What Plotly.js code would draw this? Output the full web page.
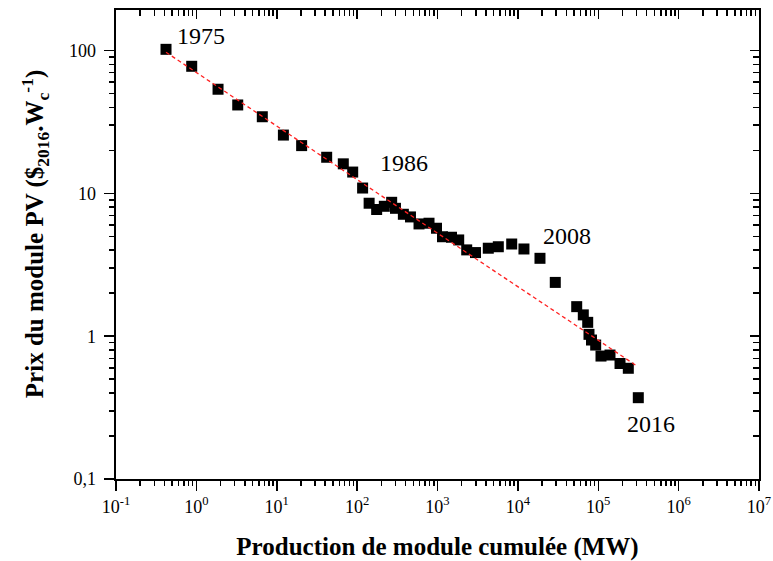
<!DOCTYPE html>
<html><head><meta charset="utf-8">
<script src="https://cdn.plot.ly/plotly-3.0.1.min.js"></script>
<style>html,body{margin:0;padding:0;background:#fff}#chart{width:773px;height:561px}</style>
</head><body><div id="chart"></div>
<script>
// Cumulative module production (MW) and module price ($2016/Wc)
const cumulativeMW = [0.419, 0.875, 1.86, 3.27, 6.61, 12.1, 20.4, 41.8, 67.3, 88.1,
  117, 141, 175, 218, 269, 300, 376, 461, 589, 784,
  972, 1153, 1493, 1836, 2309, 2971, 4285, 5710, 8380, 11900,
  18840, 29200, 53950, 65160, 73930, 76700, 82400, 92900, 108200, 140000,
  186600, 236600, 315000];
const priceUSD = [102, 77.6, 53.6, 41.6, 34.4, 25.6, 21.6, 17.9, 16.1, 14.1,
  10.9, 8.53, 7.71, 8.12, 8.66, 7.86, 7.14, 6.84, 6.11, 6.18,
  5.70, 4.97, 4.93, 4.72, 4.02, 3.85, 4.13, 4.23, 4.42, 4.08,
  3.51, 2.38, 1.61, 1.41, 1.25, 1.03, 0.94, 0.867, 0.726, 0.738,
  0.644, 0.596, 0.371];
// Learning-curve fit (end points)
const fitMW = [0.419, 303000];
const fitPrice = [97.3, 0.618];
// Year annotations
const yearLabels = ['1975', '1986', '2008', '2016'];
const yearLabelMW = [1.14, 380, 40800, 453000];
const yearLabelPrice = [126, 16.3, 5.03, 0.243];
// Tick labels
const xTickVals = [0.1, 1, 10, 100, 1e3, 1e4, 1e5, 1e6, 1e7];
const xTickText = ['10<sup>-1</sup>', '10<sup>0</sup>', '10<sup>1</sup>', '10<sup>2</sup>', '10<sup>3</sup>',
  '10<sup>4</sup>', '10<sup>5</sup>', '10<sup>6</sup>', '10<sup>7</sup>'];
const yTickVals = [0.1, 1, 10, 100];
const yTickText = ['0,1\u00a0', '1\u00a0', '10\u00a0', '100\u00a0'];
const xTitle = '<b>Production de module cumulée (MW)</b>';
const yTitle = '<b>Prix du module PV ($<sub>2016</sub>.W<sub>c</sub><sup>-1</sup>)</b>';

function minorVals(lo, hi) {
  const out = [];
  for (let e = lo; e < hi; e++) for (let d = 2; d <= 9; d++) out.push(d * Math.pow(10, e));
  return out;
}
const xMinor = minorVals(-1, 7);
const yMinor = minorVals(-1, 3);

const FONT = 'Liberation Serif, Times New Roman, serif';
const xRange = [-1, 7];
const yRange = [-1, 2.284];

const traces = [
  { x: cumulativeMW, y: priceUSD, type: 'scatter', mode: 'markers',
    marker: { symbol: 'square', size: 11, color: '#000' }, hoverinfo: 'x+y' },
  { x: fitMW, y: fitPrice, type: 'scatter', mode: 'lines',
    line: { color: '#ff2020', width: 1.3, dash: '4px,3px' }, hoverinfo: 'skip' },
  { x: [], y: [], xaxis: 'x2', yaxis: 'y', type: 'scatter', mode: 'markers', hoverinfo: 'skip', showlegend: false },
  { x: [], y: [], xaxis: 'x', yaxis: 'y2', type: 'scatter', mode: 'markers', hoverinfo: 'skip', showlegend: false }
];

const common = { type: 'log', showgrid: false, zeroline: false, linecolor: '#000', linewidth: 2,
  tickcolor: '#000', tickwidth: 1.5, tickfont: { family: FONT, size: 18, color: '#000' } };

const layout = {
  width: 773, height: 561,
  margin: { l: 116, r: 14, t: 10, b: 82 },
  paper_bgcolor: '#fff', plot_bgcolor: '#fff',
  showlegend: false,
  font: { family: FONT, color: '#000' },
  xaxis: Object.assign({}, common, {
    range: xRange, tickmode: 'array', tickvals: xTickVals, ticktext: xTickText,
    ticks: 'outside', ticklen: 10, showline: true,
    minor: { tickmode: 'array', tickvals: xMinor, ticks: 'outside', ticklen: 5, tickcolor: '#000', tickwidth: 1.5 },
    title: { text: xTitle, font: { family: FONT, size: 25, color: '#000' }, standoff: 22 }
  }),
  yaxis: Object.assign({}, common, {
    range: yRange, tickmode: 'array', tickvals: yTickVals, ticktext: yTickText,
    ticks: 'outside', ticklen: 10, showline: true,
    minor: { tickmode: 'array', tickvals: yMinor, ticks: 'outside', ticklen: 5, tickcolor: '#000', tickwidth: 1.5 }
  }),
  xaxis2: Object.assign({}, common, {
    overlaying: 'x', side: 'top', anchor: 'y', range: xRange, tickmode: 'array', tickvals: xTickVals,
    showticklabels: false, ticks: 'inside', ticklen: 9, showline: true,
    minor: { tickmode: 'array', tickvals: xMinor, ticks: 'inside', ticklen: 6, tickcolor: '#000', tickwidth: 1.5 }
  }),
  yaxis2: Object.assign({}, common, {
    overlaying: 'y', side: 'right', anchor: 'x', range: yRange, tickmode: 'array', tickvals: yTickVals,
    showticklabels: false, ticks: 'inside', ticklen: 9, showline: true,
    minor: { tickmode: 'array', tickvals: yMinor, ticks: 'inside', ticklen: 6, tickcolor: '#000', tickwidth: 1.5 }
  }),
  annotations: yearLabels.map((t, i) => ({
    text: t, x: Math.log10(yearLabelMW[i]), y: Math.log10(yearLabelPrice[i]), xref: 'x', yref: 'y',
    showarrow: false, font: { family: FONT, size: 24, color: '#000' }
  })).concat([{
    text: yTitle, textangle: -90, xref: 'paper', yref: 'paper', x: -0.126, y: 0.522,
    xanchor: 'center', yanchor: 'middle', showarrow: false,
    font: { family: FONT, size: 25, color: '#000' }
  }])
};

Plotly.newPlot('chart', traces, layout, { displayModeBar: false, staticPlot: true });
</script></body></html>
